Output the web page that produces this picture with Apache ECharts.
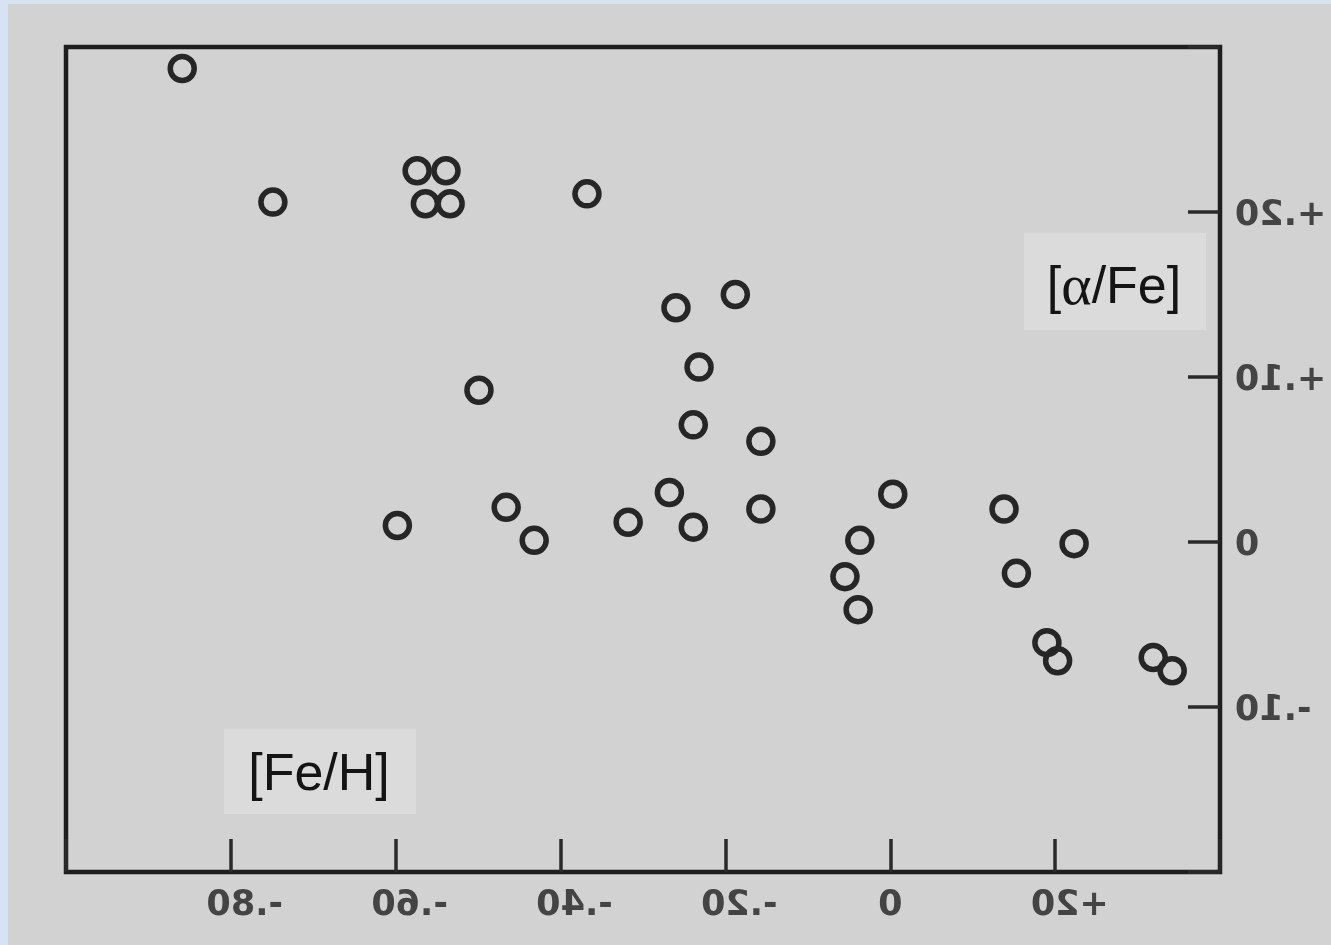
<!DOCTYPE html>
<html>
<head>
<meta charset="utf-8">
<script src="https://cdn.jsdelivr.net/npm/echarts@6/dist/echarts.min.js"></script>
<style>
html,body{margin:0;padding:0;background:#d6e3f2;width:1331px;height:945px;overflow:hidden}
#c{position:absolute;left:8px;top:4px;width:1323px;height:941px}
</style>
</head>
<body>
<div id="c"></div>
<script>
// [Fe/H] values (x) and [alpha/Fe] values (y) of the stars
const feH = [-0.859,-0.749,-0.574,-0.539,-0.564,-0.534,-0.368,-0.188,-0.260,-0.232,-0.499,-0.239,-0.157,-0.268,0.003,-0.466,-0.157,0.138,-0.318,-0.239,-0.598,-0.432,-0.037,0.223,-0.055,0.153,-0.039,0.190,0.203,0.319,0.342];
const alphaFe = [0.287,0.206,0.225,0.225,0.205,0.205,0.211,0.150,0.142,0.106,0.092,0.071,0.061,0.030,0.029,0.021,0.020,0.020,0.012,0.009,0.010,0.001,0.001,-0.001,-0.021,-0.019,-0.041,-0.061,-0.072,-0.070,-0.078];

const xTickValues = [-0.8,-0.6,-0.4,-0.2,0,0.2];
const xTickLabels = ['-.80','-.60','-.40','-.20','0','+20'];
const yTickValues = [0.2,0.1,0,-0.1];
const yTickLabels = ['+.20','+.10','0','-.10'];
const xName = '[Fe/H]';
const yNameParts = ['[', 'α', '/Fe]'];

const xMin = -1.0, xMax = 0.4, xStep = 0.2;
const yMin = -0.2, yMax = 0.3, yStep = 0.1;

const points = feH.map((v, i) => [v, alphaFe[i]]);

const chart = echarts.init(document.getElementById('c'), null, {renderer: 'canvas'});

const INK = '#1e1e1e';
const option = {
  animation: false,
  backgroundColor: '#d2d2d2',
  grid: {left: 58, right: 111, top: 43, bottom: 73, show: true, borderColor: INK, borderWidth: 4.5, backgroundColor: 'transparent'},
  xAxis: {
    type: 'value', min: xMin, max: xMax, interval: xStep,
    axisLine: {show: false, onZero: false},
    axisTick: {show: true, inside: true, length: 33, lineStyle: {color: '#2a2a2a', width: 3.5}},
    axisLabel: {show: false},
    splitLine: {show: false}
  },
  yAxis: {
    type: 'value', position: 'right', min: yMin, max: yMax, interval: yStep,
    axisLine: {show: false, onZero: false},
    axisTick: {show: true, inside: true, length: 32, lineStyle: {color: '#2a2a2a', width: 3.5}},
    axisLabel: {show: false},
    splitLine: {show: false}
  },
  series: [{
    type: 'scatter',
    data: points,
    symbol: 'circle',
    symbolSize: 24,
    silent: true,
    itemStyle: {color: 'rgba(0,0,0,0)', borderColor: '#262626', borderWidth: 5.5, opacity: 1}
  }]
};
chart.setOption(option);

const TICK_FONT = 'bold 35px "DejaVu Sans"';
const mctx = document.createElement('canvas').getContext('2d');
function tw(s) { mctx.font = TICK_FONT; return mctx.measureText(s).width; }

const g = [];
// annotation boxes
g.push({type: 'rect', silent: true, shape: {x: 1016, y: 229, width: 182, height: 97}, style: {fill: '#dbdbdb'}});
g.push({type: 'text', silent: true, x: 1106, y: 285, style: {
  text: yNameParts[0] + '{g|' + yNameParts[1] + '}' + yNameParts[2],
  font: '52px "Liberation Sans"', fill: '#141414', align: 'center', verticalAlign: 'middle',
  rich: {g: {fontFamily: 'Liberation Serif', fontSize: 58, fill: '#141414'}}
}});
g.push({type: 'rect', silent: true, shape: {x: 216, y: 725, width: 192, height: 85}, style: {fill: '#dbdbdb'}});
g.push({type: 'text', silent: true, x: 311, y: 772, style: {
  text: xName, font: '52px "Liberation Sans"', fill: '#141414', align: 'center', verticalAlign: 'middle'
}});

// mirrored tick labels (as in the reference scan)
xTickValues.forEach((v, i) => {
  const p = chart.convertToPixel({gridIndex: 0}, [v, yMin]);
  const lab = xTickLabels[i];
  const digits = lab.replace(/^[+\-.]+/, '');
  g.push({type: 'text', silent: true, x: p[0], y: p[1] + 34, scaleX: -1, style: {
    text: lab, x: tw(digits) / 2, y: 0, font: TICK_FONT, fill: '#444444', align: 'right', verticalAlign: 'middle'
  }});
});
yTickValues.forEach((v, i) => {
  const p = chart.convertToPixel({gridIndex: 0}, [xMax, v]);
  g.push({type: 'text', silent: true, x: p[0] + 15, y: p[1] + 4, scaleX: -1, style: {
    text: yTickLabels[i], x: 0, y: 0, font: TICK_FONT, fill: '#444444', align: 'right', verticalAlign: 'middle'
  }});
});
chart.setOption({graphic: g});
</script>
</body>
</html>
